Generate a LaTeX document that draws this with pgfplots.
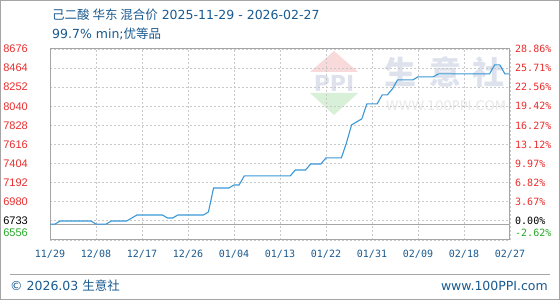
\documentclass[border=0pt]{standalone}
\usepackage{pgfplots}
\pgfplotsset{compat=1.18}
\usepackage{fontspec}
\setmainfont{DejaVu Sans}
\newfontfamily\cjk{Noto Sans CJK SC}
\newfontfamily\tickfont{Liberation Sans}
\newfontfamily\monofont{DejaVu Sans Mono}
\definecolor{titleblue}{RGB}{25,90,145}
\definecolor{tickred}{RGB}{235,45,45}
\definecolor{tickgreen}{RGB}{40,170,40}
\definecolor{lineblue}{RGB}{58,152,216}
\definecolor{framegray}{RGB}{165,165,165}
\definecolor{gridgray}{RGB}{200,200,200}
\definecolor{wmblue}{RGB}{221,226,236}
\definecolor{wmgray}{RGB}{232,232,232}
\definecolor{wmred}{RGB}{249,218,218}
\definecolor{wmgreen}{RGB}{216,239,216}
\begin{document}
\begin{tikzpicture}
\useasboundingbox (0,0) rectangle (560bp,300bp);
\fill[white] (0,0) rectangle (560bp,300bp);
\draw[framegray, line width=1bp] (0.5bp,0.5bp) rectangle (559.5bp,299.5bp);
% title
\node[anchor=base west, inner sep=0pt, text=titleblue] at (52bp,280.5bp)
  {\fontsize{12.5bp}{15bp}\selectfont{\cjk 己二酸 华东 混合价} 2025-11-29 - 2026-02-27};
\node[anchor=base west, inner sep=0pt, text=titleblue] at (52bp,261bp)
  {\fontsize{12.5bp}{15bp}\selectfont 99.7\% min;{\cjk 优等品}};
% watermark
\fill[wmred] (310bp,228bp) -- (358bp,228bp) -- (334bp,249bp) -- cycle;
\fill[wmgreen] (310bp,207bp) -- (358bp,207bp) -- (334bp,185bp) -- cycle;
\node[text=wmblue, inner sep=0pt] at (334bp,217bp) {\fontsize{22bp}{24bp}\selectfont\bfseries PPI};
\node[text=wmblue, inner sep=0pt] at (400bp,228bp) {\fontsize{32bp}{34bp}\selectfont\cjk\bfseries 生};
\node[text=wmblue, inner sep=0pt] at (445bp,228bp) {\fontsize{32bp}{34bp}\selectfont\cjk\bfseries 意};
\node[text=wmblue, inner sep=0pt] at (488bp,228bp) {\fontsize{32bp}{34bp}\selectfont\cjk\bfseries 社};
\node[text=wmgray, inner sep=0pt] at (446bp,194bp) {\fontsize{13bp}{14bp}\selectfont WWW.100PPI.COM};
% footer
\draw[framegray, line width=1bp] (10bp,25bp) -- (550bp,25bp);
\node[anchor=base west, inner sep=0pt, text=titleblue] at (10bp,9.5bp)
  {\fontsize{12.5bp}{15bp}\selectfont \textcopyright{} 2026.03 {\cjk 生意社}};
\node[anchor=base east, inner sep=0pt, text=titleblue] at (548bp,9.5bp)
  {\fontsize{12.5bp}{15bp}\selectfont www.100PPI.com};
\begin{axis}[
  at={(50bp,60bp)}, anchor=south west, scale only axis,
  width=460bp, height=191bp,
  xmin=0, xmax=90, ymin=6556, ymax=8676,
  xtick={0,9,...,90},
  xticklabels={11/29,12/08,12/17,12/26,01/04,01/13,01/22,01/31,02/09,02/18,02/27},
  ytick={6556,6768,6980,7192,7404,7616,7828,8040,8252,8464,8676},
  yticklabels={,,6980,7192,7404,7616,7828,8040,8252,8464,8676},
  extra y ticks={6640,6765},
  extra y tick labels={\textcolor{tickgreen}{6556},\textcolor{black}{6733}},
  extra y tick style={grid=none},
  grid=major,
  grid style={gridgray, line width=0.8bp, dash pattern=on 2bp off 2bp},
  major tick length=0pt,
  axis line style={framegray, line width=1bp},
  yticklabel style={font=\tickfont\fontsize{11bp}{12bp}\selectfont, text=tickred, anchor=east, inner sep=0pt, xshift=-22bp},
  xticklabel style={font=\monofont\fontsize{10bp}{12bp}\selectfont, text=titleblue, anchor=center, inner sep=0pt, yshift=-14bp},
]
\addplot[framegray, line width=1bp] coordinates {(0,6733) (90,6733)};
\addplot[lineblue, line width=1.1bp] coordinates {
(0,6733)(1,6733)(2,6767)(3,6767)(4,6767)(5,6767)(6,6767)(7,6767)(8,6767)
(9,6733)(10,6733)(11,6733)(12,6767)(13,6767)(14,6767)(15,6767)(16,6800)
(17,6833)(18,6833)(19,6833)(20,6833)(21,6833)(22,6833)(23,6800)(24,6800)
(25,6833)(26,6833)(27,6833)(28,6833)(29,6833)(30,6833)(31,6867)(32,7133)
(33,7133)(34,7133)(35,7133)(36,7167)(37,7167)(38,7267)(39,7267)(40,7267)
(41,7267)(42,7267)(43,7267)(44,7267)(45,7267)(46,7267)(47,7267)(48,7333)
(49,7333)(50,7333)(51,7400)(52,7400)(53,7400)(54,7467)(55,7467)(56,7467)
(57,7467)(58,7633)(59,7833)(60,7867)(61,7900)(62,8067)(63,8067)(64,8067)
(65,8167)(66,8167)(67,8233)(68,8333)(69,8333)(70,8333)(71,8333)(72,8367)
(73,8367)(74,8367)(75,8367)(76,8400)(77,8400)(78,8400)(79,8400)(80,8400)
(81,8400)(82,8400)(83,8400)(84,8400)(85,8400)(86,8400)(87,8500)(88,8500)
(89,8400)(90,8400)};
\end{axis}
\begin{axis}[
  at={(50bp,60bp)}, anchor=south west, scale only axis,
  width=460bp, height=191bp,
  xmin=0, xmax=90, ymin=6556, ymax=8676,
  axis x line=none, axis y line*=right,
  ytick={6556,6768,6980,7192,7404,7616,7828,8040,8252,8464,8676},
  yticklabels={,,3.67\%,6.82\%,9.97\%,13.12\%,16.27\%,19.42\%,22.56\%,25.71\%,28.86\%},
  extra y ticks={6640,6765},
  extra y tick labels={\textcolor{tickgreen}{-2.62\%},\textcolor{black}{0.00\%}},
  major tick length=0pt,
  axis line style={framegray, line width=1bp},
  yticklabel style={font=\monofont\fontsize{10bp}{12bp}\selectfont, text=tickred, anchor=west, inner sep=0pt, xshift=5bp},
]
\addplot[draw=none] coordinates {(0,6733)};
\end{axis}
\end{tikzpicture}
\end{document}
